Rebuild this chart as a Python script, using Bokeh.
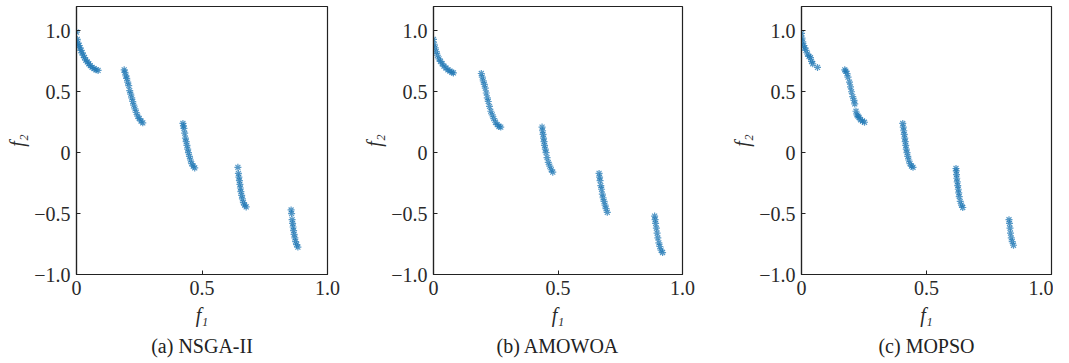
from bokeh.plotting import figure
from bokeh.layouts import row
from bokeh.models import FixedTicker, Title, Range1d
from bokeh.embed import file_html
from bokeh.resources import INLINE

# ---------------- data ----------------
captions = ["(a) NSGA-II", "(b) AMOWOA", "(c) MOPSO"]
x_ticks = [0, 0.5, 1.0]
x_tick_labels = ["0", "0.5", "1.0"]
y_ticks = [-1.0, -0.5, 0, 0.5, 1.0]
y_tick_labels = ["\u22121.0", "\u22120.5", "0", "0.5", "1.0"]

nsga_f1 = [0.0, 0.003, 0.006, 0.010, 0.014, 0.018, 0.022, 0.027, 0.032, 0.037, 0.043, 0.049, 0.055, 0.062, 0.070, 0.078, 0.086,
           0.190, 0.193, 0.197, 0.200, 0.204, 0.208, 0.212, 0.216, 0.220, 0.224, 0.228, 0.233, 0.238, 0.244, 0.250, 0.257, 0.264,
           0.424, 0.426, 0.428, 0.431, 0.434, 0.437, 0.440, 0.443, 0.446, 0.450, 0.454, 0.459, 0.465, 0.471,
           0.643, 0.645, 0.647, 0.649, 0.651, 0.653, 0.655, 0.658, 0.661, 0.665, 0.670, 0.676,
           0.855, 0.857, 0.859, 0.861, 0.863, 0.865, 0.867, 0.870, 0.873, 0.877, 0.882]
nsga_f2 = [0.99, 0.93, 0.90, 0.88, 0.86, 0.84, 0.82, 0.80, 0.78, 0.76, 0.745, 0.73, 0.715, 0.70, 0.69, 0.68, 0.675,
           0.68, 0.66, 0.63, 0.61, 0.58, 0.55, 0.51, 0.48, 0.45, 0.42, 0.39, 0.36, 0.33, 0.30, 0.28, 0.26, 0.245,
           0.24, 0.22, 0.20, 0.16, 0.12, 0.09, 0.06, 0.03, 0.00, -0.03, -0.06, -0.09, -0.11, -0.125,
           -0.12, -0.17, -0.20, -0.23, -0.26, -0.29, -0.32, -0.35, -0.38, -0.41, -0.43, -0.445,
           -0.47, -0.50, -0.55, -0.58, -0.61, -0.64, -0.67, -0.70, -0.73, -0.755, -0.775]

amowoa_f1 = [0.0, 0.003, 0.007, 0.011, 0.016, 0.022, 0.028, 0.035, 0.042, 0.050, 0.058, 0.066, 0.074, 0.080,
             0.192, 0.196, 0.200, 0.204, 0.208, 0.212, 0.216, 0.220, 0.225, 0.230, 0.236, 0.242, 0.249, 0.256, 0.263, 0.270,
             0.436, 0.438, 0.440, 0.442, 0.444, 0.446, 0.449, 0.452, 0.456, 0.461, 0.467, 0.473, 0.479,
             0.665, 0.667, 0.669, 0.672, 0.675, 0.678, 0.681, 0.685, 0.689, 0.693, 0.698,
             0.888, 0.890, 0.892, 0.895, 0.898, 0.901, 0.905, 0.909, 0.914, 0.920]
amowoa_f2 = [0.93, 0.89, 0.86, 0.83, 0.80, 0.77, 0.75, 0.73, 0.71, 0.695, 0.68, 0.67, 0.66, 0.655,
             0.65, 0.62, 0.59, 0.56, 0.53, 0.49, 0.45, 0.42, 0.38, 0.34, 0.31, 0.28, 0.25, 0.23, 0.215, 0.21,
             0.21, 0.18, 0.15, 0.12, 0.09, 0.06, 0.03, 0.00, -0.04, -0.08, -0.11, -0.14, -0.16,
             -0.17, -0.20, -0.23, -0.27, -0.30, -0.34, -0.37, -0.40, -0.43, -0.46, -0.49,
             -0.52, -0.55, -0.58, -0.62, -0.66, -0.70, -0.74, -0.77, -0.80, -0.82]

mopso_f1 = [0.0, 0.002, 0.005, 0.009, 0.013, 0.018, 0.024, 0.030, 0.036, 0.040, 0.045, 0.064,
            0.173, 0.177, 0.182, 0.186, 0.192, 0.196, 0.200, 0.205, 0.210, 0.213, 0.218, 0.222, 0.226, 0.230, 0.236, 0.244, 0.252,
            0.405, 0.407, 0.409, 0.411, 0.413, 0.415, 0.417, 0.419, 0.422, 0.425, 0.429, 0.434, 0.440, 0.446,
            0.618, 0.619, 0.620, 0.621, 0.623, 0.625, 0.627, 0.629, 0.631, 0.635, 0.640, 0.645,
            0.830, 0.832, 0.834, 0.836, 0.839, 0.843, 0.848]
mopso_f2 = [0.98, 0.94, 0.91, 0.88, 0.86, 0.84, 0.81, 0.79, 0.78, 0.75, 0.73, 0.70,
            0.68, 0.67, 0.65, 0.62, 0.58, 0.54, 0.50, 0.46, 0.43, 0.40, 0.34, 0.31, 0.30, 0.29, 0.27, 0.26, 0.25,
            0.24, 0.21, 0.18, 0.15, 0.12, 0.09, 0.06, 0.03, 0.00, -0.03, -0.06, -0.09, -0.11, -0.12,
            -0.13, -0.15, -0.18, -0.21, -0.24, -0.27, -0.30, -0.33, -0.36, -0.40, -0.43, -0.45,
            -0.55, -0.58, -0.62, -0.66, -0.70, -0.73, -0.76]

series = [(nsga_f1, nsga_f2), (amowoa_f1, amowoa_f2), (mopso_f1, mopso_f2)]

FONT = "Liberation Serif"
FS = "20px"
widths = [357, 368, 328]
rights = [30, 43, 2]

figs = []
for i, ((fx, fy), cap) in enumerate(zip(series, captions)):
    p = figure(width=widths[i], height=360, output_backend="svg", toolbar_location=None,
               x_range=Range1d(0, 1), y_range=Range1d(-1, 1.2),
               min_border_left=76, min_border_right=rights[i], min_border_top=6, min_border_bottom=86)
    p.scatter(fx, fy, marker="asterisk", size=7, line_color="#1f77b4", line_alpha=0.75, line_width=1.2)
    p.grid.visible = False
    p.outline_line_color = "#222222"
    p.outline_line_width = 1.2
    p.background_fill_color = "white"
    p.border_fill_color = "white"

    p.xaxis.ticker = FixedTicker(ticks=x_ticks)
    p.xaxis.major_label_overrides = dict(zip(x_ticks, x_tick_labels))
    p.yaxis.ticker = FixedTicker(ticks=y_ticks)
    p.yaxis.major_label_overrides = dict(zip(y_ticks, y_tick_labels))
    for ax in (p.xaxis[0], p.yaxis[0]):
        ax.major_tick_in = 4
        ax.major_tick_out = 0
        ax.minor_tick_line_color = None
        ax.axis_line_color = "#222222"
        ax.axis_line_width = 1.2
        ax.major_tick_line_color = "#222222"
        ax.major_label_text_font = FONT
        ax.major_label_text_font_size = FS
        ax.major_label_text_color = "#2a2a2a"
        ax.axis_label_text_font = FONT
        ax.axis_label_text_font_size = FS
        ax.axis_label_text_font_style = "italic"
        ax.axis_label_text_color = "#2a2a2a"
    p.xaxis.major_label_standoff = 6
    p.yaxis.major_label_standoff = 6
    p.xaxis.axis_label = "f\u2081"
    p.yaxis.axis_label = "f\u2082"
    p.xaxis.axis_label_standoff = 6
    p.yaxis.axis_label_standoff = 3

    t = Title(text=cap, align="center", text_font=FONT, text_font_size=FS,
              text_font_style="normal", text_color="#222222", standoff=8)
    p.add_layout(t, "below")
    figs.append(p)

layout = row(*figs, spacing=0)
open("out.html", "w").write(file_html(layout, INLINE))
